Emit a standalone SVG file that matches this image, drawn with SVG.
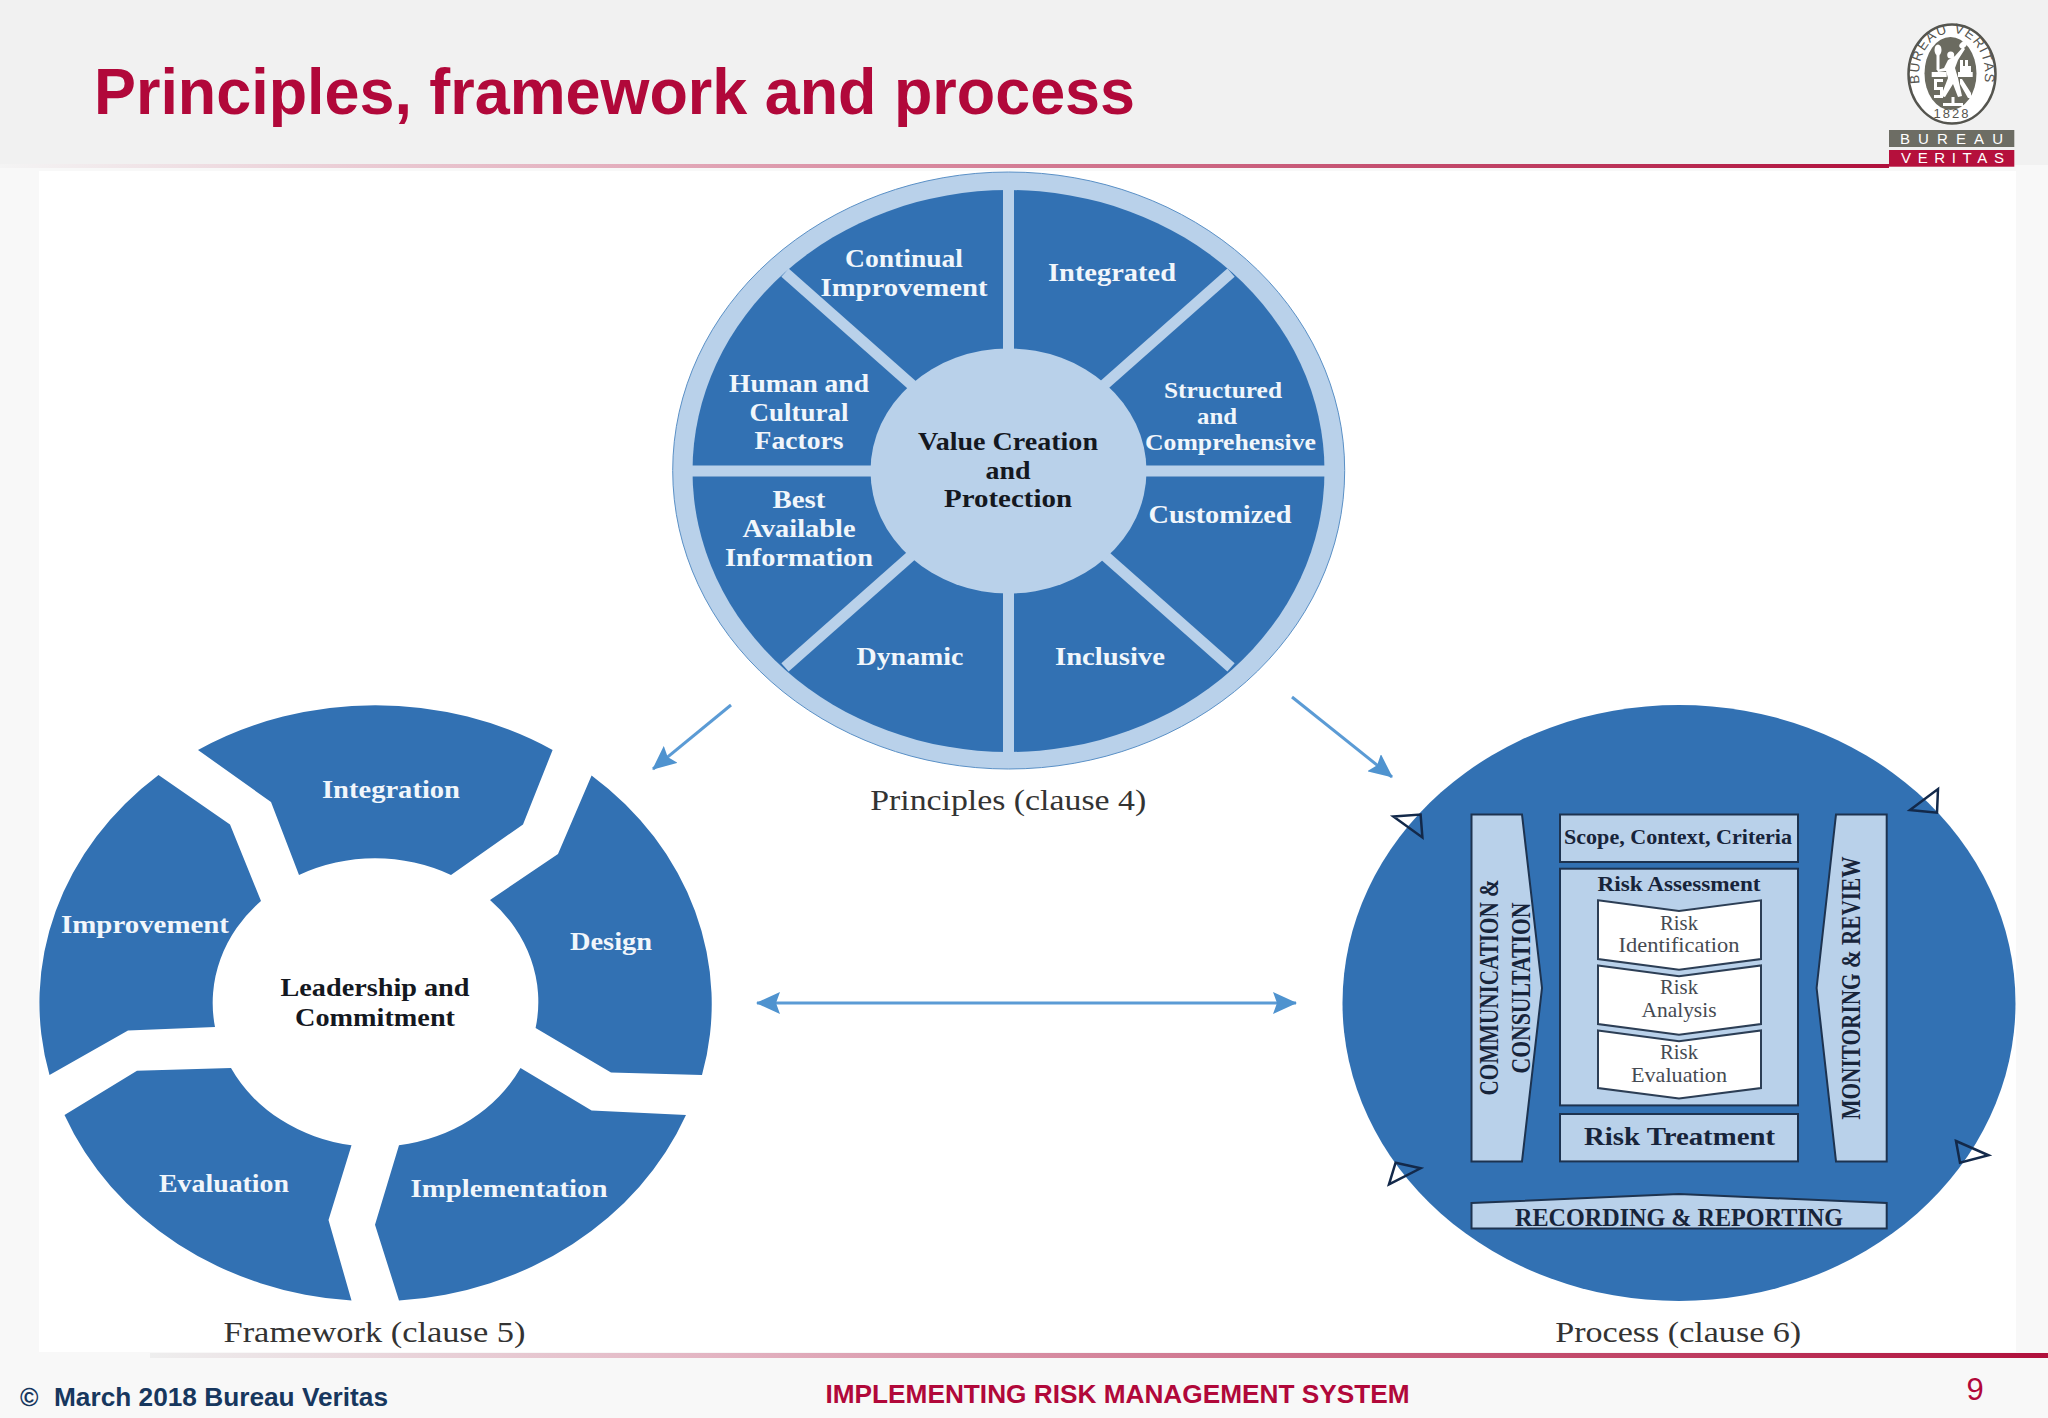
<svg xmlns="http://www.w3.org/2000/svg" width="2048" height="1418" viewBox="0 0 2048 1418">
<defs>
<linearGradient id="gTop" x1="0" x2="1" y1="0" y2="0"><stop offset="0" stop-color="#f4f4f4"/><stop offset="0.35" stop-color="#e2a9b9"/><stop offset="1" stop-color="#b0103c"/></linearGradient>
<linearGradient id="gBot" x1="0" x2="1" y1="0" y2="0"><stop offset="0" stop-color="#eeeeee"/><stop offset="0.3" stop-color="#e3b4c2"/><stop offset="1" stop-color="#b0103c"/></linearGradient>
<marker id="ah" viewBox="0 0 24 22" refX="23" refY="11" markerUnits="userSpaceOnUse" markerWidth="24" markerHeight="22" orient="auto-start-reverse"><path d="M0 0L24 11L0 22L4 11Z" fill="#4f93cf"/></marker>
<path id="logoArc" d="M1926.500 100A33 41 0 1 1 1977.500 100"/>
</defs>
<style>
.lab{font-family:"Liberation Serif",serif;font-weight:700;font-size:26px;fill:#f1f6fb;text-anchor:middle}
.small{font-size:23px}
.ctr{font-family:"Liberation Serif",serif;font-weight:700;font-size:26px;fill:#14181f;text-anchor:middle}
.cap{font-family:"Liberation Serif",serif;font-size:29px;fill:#333;text-anchor:middle}
.box{fill:#b9d1ea;stroke:#1d3350;stroke-width:2}
.chev{fill:#fff;stroke:#2c3e55;stroke-width:2}
.boxt{font-family:"Liberation Serif",serif;font-weight:700;fill:#17243a;text-anchor:middle}
.rt{font-family:"Liberation Serif",serif;font-size:21px;fill:#454a52;text-anchor:middle}
.tri{fill:none;stroke:#13294a;stroke-width:2.500}
.blue{fill:#3271b3}
.conn{stroke:#5b9bd5;stroke-width:3;fill:none}
.foot{font-family:"Liberation Sans",Arial,sans-serif;font-weight:700;font-size:25px}
</style>
<rect width="2048" height="1418" fill="#f8f8f8"/>
<rect width="2048" height="165" fill="#f1f1f1"/>
<rect x="39" y="171" width="1977" height="1181" fill="#fff"/>
<rect x="0" y="164" width="1889" height="4" fill="url(#gTop)"/>
<rect x="150" y="1353" width="1898" height="5" fill="url(#gBot)"/>
<text id="title" x="94" y="113.500" textLength="1041" lengthAdjust="spacingAndGlyphs" font-family="Liberation Sans,Arial,sans-serif" font-weight="700" font-size="64" fill="#b1083a">Principles, framework and process</text>

<g id="logo">
<ellipse cx="1952" cy="74" rx="43.500" ry="49.500" fill="#fff" stroke="#55554f" stroke-width="2.500"/>
<ellipse cx="1950.500" cy="73.500" rx="26" ry="36.500" fill="#6b6b60"/>
<text font-family="Liberation Sans,Arial,sans-serif" font-size="13.500" fill="#55554f" letter-spacing="1.300" text-anchor="middle"><textPath href="#logoArc" startOffset="50%">BUREAU VERITAS</textPath></text>
<text x="1952" y="118" font-family="Liberation Sans,Arial,sans-serif" font-size="13" fill="#55554f" letter-spacing="2" text-anchor="middle">1828</text>
<g fill="#fff">
<ellipse cx="1938" cy="50" rx="3.500" ry="5.500"/>
<rect x="1936.500" y="55" width="3" height="15"/>
<ellipse cx="1963" cy="45" rx="4" ry="3" transform="rotate(-40 1963 45)"/>
<circle cx="1950.700" cy="55" r="3.500"/>
<path d="M1963 47L1955 56L1948 60L1944 68L1937 70L1938 72L1946 71L1948 78L1941 96L1945 97L1953 84L1958 97L1962 96L1958 78L1955 68L1958 60L1965 49Z"/>
<rect x="1931.700" y="72" width="15" height="5"/>
<rect x="1958" y="72" width="14.700" height="5"/>
<path d="M1960 60h3v6h2v-6h3v6h3v6h-11zM1934 79h9v3h-6v5h6v11h-9v-3h6v-5h-6zM1962 79l9 14v5h-3l-8-14v-5zM1943 103h20v3h-20zM1951.500 97h3v6h-3z"/>
</g>
<rect x="1889" y="130" width="125.300" height="17" fill="#6d6d64"/>
<rect x="1889" y="150" width="125.300" height="16.700" fill="#b5103c"/>
<text x="1900" y="144" textLength="103" font-family="Liberation Sans,Arial,sans-serif" font-size="15" fill="#fff">BUREAU</text>
<text x="1901" y="163" textLength="103" font-family="Liberation Sans,Arial,sans-serif" font-size="15" fill="#fff">VERITAS</text>
</g>

<g id="principles">
<ellipse cx="1008.700" cy="470.500" rx="336" ry="298.500" fill="#b9d1ea" stroke="#5a90c6" stroke-width="1"/>
<ellipse cx="1008.500" cy="471" rx="316" ry="281" class="blue"/>
<g stroke="#b9d1ea" stroke-width="11">
<line x1="1008.500" y1="180" x2="1008.500" y2="762"/>
<line x1="685" y1="471" x2="1332" y2="471"/>
<line x1="785" y1="272.700" x2="1231" y2="667.400"/>
<line x1="1231" y1="272.700" x2="785" y2="667.400"/>
</g>
<ellipse cx="1008.500" cy="471" rx="138" ry="122.500" fill="#b9d1ea"/>
<text class="lab" x="904" y="267" textLength="118" lengthAdjust="spacingAndGlyphs">Continual</text>
<text class="lab" x="904" y="295.700" textLength="167" lengthAdjust="spacingAndGlyphs">Improvement</text>
<text class="lab" x="1112" y="281.400" textLength="128" lengthAdjust="spacingAndGlyphs">Integrated</text>
<text class="lab" x="799" y="392" textLength="140" lengthAdjust="spacingAndGlyphs">Human and</text>
<text class="lab" x="799" y="421" textLength="99" lengthAdjust="spacingAndGlyphs">Cultural</text>
<text class="lab" x="799" y="449" textLength="89" lengthAdjust="spacingAndGlyphs">Factors</text>
<text class="lab small" x="1223" y="398" textLength="118" lengthAdjust="spacingAndGlyphs">Structured</text>
<text class="lab small" x="1217" y="424" textLength="40" lengthAdjust="spacingAndGlyphs">and</text>
<text class="lab small" x="1230.500" y="449.700" textLength="171" lengthAdjust="spacingAndGlyphs">Comprehensive</text>
<text class="ctr" x="1008" y="449.700" textLength="180" lengthAdjust="spacingAndGlyphs">Value Creation</text>
<text class="ctr" x="1008" y="478.700" textLength="45" lengthAdjust="spacingAndGlyphs">and</text>
<text class="ctr" x="1008" y="507" textLength="128" lengthAdjust="spacingAndGlyphs">Protection</text>
<text class="lab" x="1220" y="522.500" textLength="143" lengthAdjust="spacingAndGlyphs">Customized</text>
<text class="lab" x="799" y="508" textLength="53" lengthAdjust="spacingAndGlyphs">Best</text>
<text class="lab" x="799" y="537.400" textLength="113" lengthAdjust="spacingAndGlyphs">Available</text>
<text class="lab" x="799" y="565.500" textLength="148" lengthAdjust="spacingAndGlyphs">Information</text>
<text class="lab" x="910" y="664.500" textLength="107" lengthAdjust="spacingAndGlyphs">Dynamic</text>
<text class="lab" x="1110" y="664.500" textLength="110" lengthAdjust="spacingAndGlyphs">Inclusive</text>
<text class="cap" x="1008.200" y="810" textLength="276" lengthAdjust="spacingAndGlyphs">Principles (clause 4)</text>
</g>

<g id="framework">
<path class="blue" d="M198 750A336 298 0 0 1 552.600 750L523 824.400L451 875A162 143 0 0 0 299 875L271 802Z"/>
<path class="blue" d="M591.600 775.400A336 298 0 0 1 702 1075L611 1072.500L535.600 1028A162 143 0 0 0 490 900L558 854Z"/>
<path class="blue" d="M686 1115A336 298 0 0 1 399 1300.600L375 1224.700L399 1145.300A162 143 0 0 0 520.500 1068L591.600 1110.600Z"/>
<path class="blue" d="M351.500 1300.600A336 298 0 0 1 64.500 1115L137 1070.700L231 1068A162 143 0 0 0 351.500 1145.300L328.500 1220Z"/>
<path class="blue" d="M49.500 1075A336 298 0 0 1 158.500 775L230 824.400L261 901A162 143 0 0 0 215 1027L128 1030.400Z"/>
<text class="lab" x="391" y="797.500" textLength="138" lengthAdjust="spacingAndGlyphs">Integration</text>
<text class="lab" x="145" y="933" textLength="168" lengthAdjust="spacingAndGlyphs">Improvement</text>
<text class="lab" x="611" y="949.500" textLength="82" lengthAdjust="spacingAndGlyphs">Design</text>
<text class="ctr" x="375" y="996" textLength="189" lengthAdjust="spacingAndGlyphs">Leadership and</text>
<text class="ctr" x="375" y="1025.500" textLength="160" lengthAdjust="spacingAndGlyphs">Commitment</text>
<text class="lab" x="224" y="1192" textLength="130" lengthAdjust="spacingAndGlyphs">Evaluation</text>
<text class="lab" x="509" y="1196.500" textLength="197" lengthAdjust="spacingAndGlyphs">Implementation</text>
<text class="cap" x="374.500" y="1342" textLength="302" lengthAdjust="spacingAndGlyphs">Framework (clause 5)</text>
</g>

<g id="process">
<ellipse cx="1679" cy="1003" rx="336.500" ry="298" class="blue"/>
<path class="box" d="M1471.500 814.500H1522L1542 988L1522 1161.400H1471.500Z"/>
<path class="box" d="M1886.700 814.500H1836L1816.600 988L1836 1161.400H1886.700Z"/>
<rect class="box" x="1560" y="814.500" width="238" height="47.500"/>
<rect class="box" x="1560" y="868.700" width="238" height="236.700"/>
<rect class="box" x="1560" y="1114" width="238" height="47.400"/>
<path class="chev" d="M1598 900.300L1679 911L1761 900.300V959L1679 969.700L1598 959Z"/>
<path class="chev" d="M1598 965.400L1679 976.200L1761 965.400V1024L1679 1034.800L1598 1024Z"/>
<path class="chev" d="M1598 1030.400L1679 1041.300L1761 1030.400V1088L1679 1098.500L1598 1088Z"/>
<path class="box" d="M1471.500 1203L1679 1194L1886.700 1203V1228.600H1471.500Z"/>
<text class="boxt" font-size="27" transform="translate(1497.500 987.500) rotate(-90)" textLength="216" lengthAdjust="spacingAndGlyphs">COMMUNICATION &amp;</text>
<text class="boxt" font-size="27" transform="translate(1530 988) rotate(-90)" textLength="171" lengthAdjust="spacingAndGlyphs">CONSULTATION</text>
<text class="boxt" font-size="27" transform="translate(1859.500 988) rotate(-90)" textLength="263" lengthAdjust="spacingAndGlyphs">MONITORING &amp; REVIEW</text>
<text class="boxt" font-size="21" x="1678" y="844" textLength="228" lengthAdjust="spacingAndGlyphs">Scope, Context, Criteria</text>
<text class="boxt" font-size="20" x="1679" y="890.800" textLength="163" lengthAdjust="spacingAndGlyphs">Risk Assessment</text>
<text class="rt" x="1679" y="929.800" textLength="38" lengthAdjust="spacingAndGlyphs">Risk</text>
<text class="rt" x="1679" y="952.400" textLength="121" lengthAdjust="spacingAndGlyphs">Identification</text>
<text class="rt" x="1679" y="994.400" textLength="38" lengthAdjust="spacingAndGlyphs">Risk</text>
<text class="rt" x="1679" y="1016.500" textLength="75" lengthAdjust="spacingAndGlyphs">Analysis</text>
<text class="rt" x="1679" y="1059" textLength="38" lengthAdjust="spacingAndGlyphs">Risk</text>
<text class="rt" x="1679" y="1081.600" textLength="96" lengthAdjust="spacingAndGlyphs">Evaluation</text>
<text class="boxt" font-size="26" x="1679.500" y="1145.300" textLength="191" lengthAdjust="spacingAndGlyphs">Risk Treatment</text>
<text class="boxt" font-size="26" x="1679" y="1225.500" textLength="328" lengthAdjust="spacingAndGlyphs">RECORDING &amp; REPORTING</text>
<path class="tri" d="M1393.400 816.600L1420.600 814.500L1422.400 837.400Z"/>
<path class="tri" d="M1910 810L1938 789L1937 812.700Z"/>
<path class="tri" d="M1956 1141L1988.500 1155.300L1960 1162.700Z"/>
<path class="tri" d="M1389 1184.400L1420.600 1168.300L1395.600 1162.700Z"/>
<text class="cap" x="1678.200" y="1342" textLength="246" lengthAdjust="spacingAndGlyphs">Process (clause 6)</text>
</g>

<g id="connectors">
<line class="conn" x1="731" y1="705" x2="653" y2="769" marker-end="url(#ah)"/>
<line class="conn" x1="1292" y1="697" x2="1392" y2="777" marker-end="url(#ah)"/>
<line class="conn" x1="757" y1="1003" x2="1296" y2="1003" marker-start="url(#ah)" marker-end="url(#ah)"/>
</g>

<g id="footer">
<text class="foot" x="20" y="1406" fill="#17375e">©</text>
<text class="foot" x="54" y="1406" fill="#17375e" textLength="334" lengthAdjust="spacingAndGlyphs">March 2018 Bureau Veritas</text>
<text class="foot" x="825.500" y="1403" fill="#b1083a" textLength="584" lengthAdjust="spacingAndGlyphs">IMPLEMENTING RISK MANAGEMENT SYSTEM</text>
<text x="1975" y="1400" font-family="Liberation Sans,Arial,sans-serif" font-size="31" fill="#b1083a" text-anchor="middle">9</text>
</g>
</svg>
